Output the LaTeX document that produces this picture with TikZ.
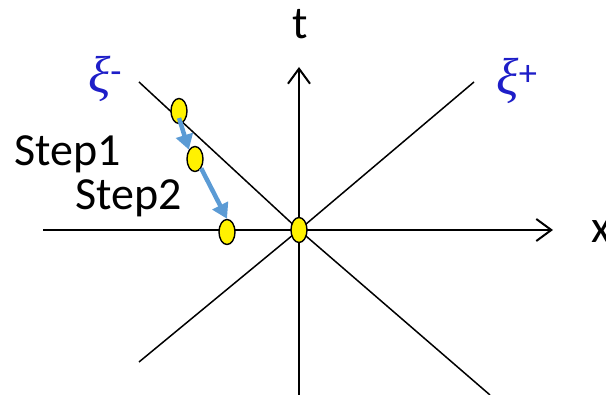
\documentclass[tikz,border=0pt]{standalone}
\usepackage{fontspec}
\setmainfont{Carlito}
\newfontfamily\xifont{Liberation Serif}
\usetikzlibrary{arrows.meta,shapes.geometric}
\definecolor{xiblue}{RGB}{30,30,200}
\definecolor{hopblue}{RGB}{91,155,213}
\tikzset{
  spot/.style={ellipse, draw=black, line width=1.4pt, fill=yellow, minimum width=16pt, minimum height=25pt, inner sep=0pt},
  hop/.style={hopblue, line width=4.5pt, -{Triangle[length=15pt,width=17pt]}},
  axis/.style={line width=2pt, -{Straight Barb[length=15pt,width=22pt]}},
  lbl/.style={font=\fontsize{46}{55}\selectfont, inner sep=0pt},
  xilbl/.style={text=xiblue, font=\fontsize{52}{60}\selectfont, inner sep=0pt}
}
\begin{document}
\begin{tikzpicture}[x=1pt,y=-1pt]
    \useasboundingbox (0,0) rectangle (606,395);
    % ends of the lines
    \coordinate (xl) at (43,230);
    \coordinate (xr) at (553,230);
    \coordinate (tb) at (299,395);
    \coordinate (tt) at (299,67);
    \coordinate (mu) at (139,82);
    \coordinate (md) at (490,395);
    \coordinate (pu) at (474,82);
    \coordinate (pd) at (139,362);
    \coordinate (o) at (299,230);
    % light cone
    \draw[line width=1.5pt] (mu) -- (o) -- (md);
    \draw[line width=1.5pt] (pd) -- (o) -- (pu);
    % axes
    \draw[axis] (xl) -- (xr);
    \draw[axis] (tb) -- (tt);
    \node[lbl] (tlab) at (300,24) {t};
    \node[lbl] (xlab) at (601,232) {x};
    \node[xilbl] (ximinus) at (105,79) {{\xifont\itshape ξ}\textsuperscript{-}};
    \node[xilbl] (xiplus) at (517,81) {{\xifont\itshape ξ}\textsuperscript{+}};
    % points
    \node[spot] (p0) at (o) {};
    \node[spot] (p1) at (179,111) {};
    \node[spot] (p2) at (195,159) {};
    \node[spot] (p3) at (227,232) {};
    % steps
    \draw[hop] ([yshift=-7pt]p1.center) -- (p2.north west);
    \draw[hop] (p2.south east) -- (p3.north);
    \node[lbl] (s1) at (68,154) {Step1};
    \node[lbl] (s2) at (129,198) {Step2};
\end{tikzpicture}
\end{document}
